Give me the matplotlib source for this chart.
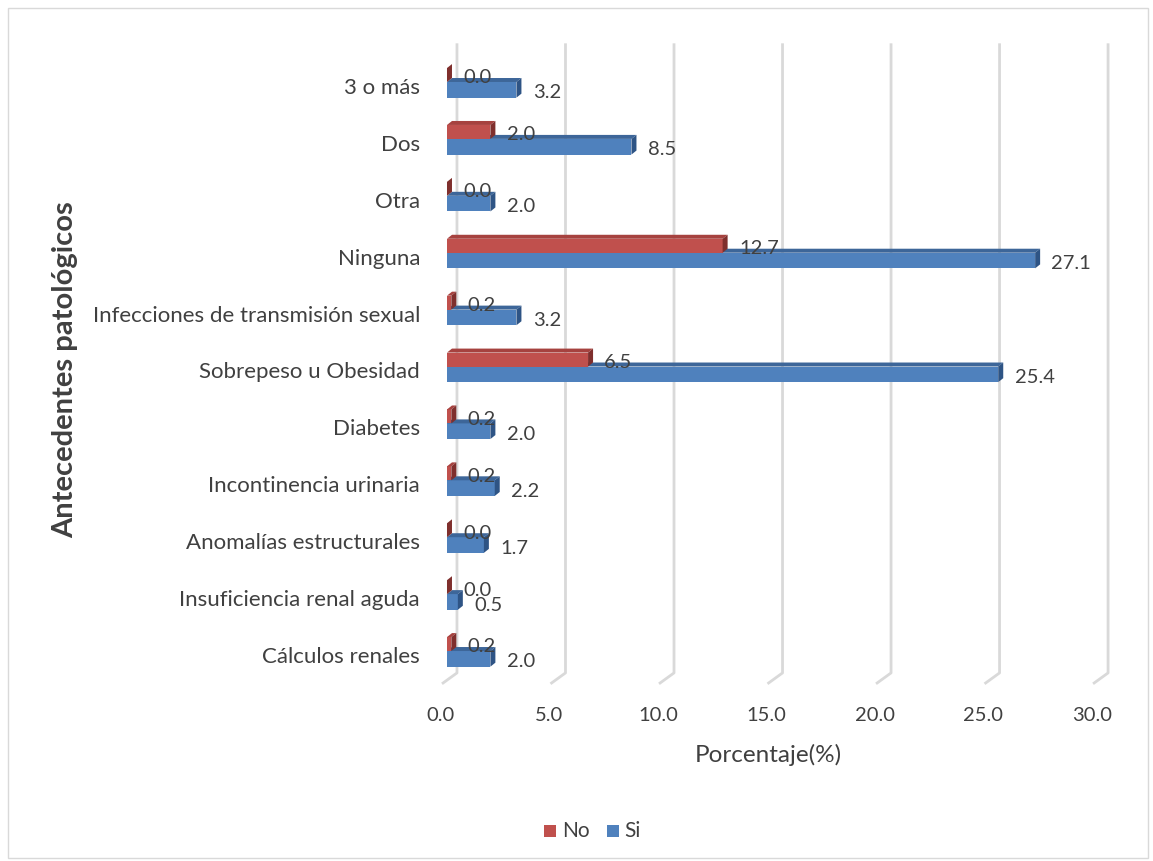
import matplotlib
matplotlib.use("Agg")
import matplotlib.pyplot as plt
from matplotlib.patches import Polygon, Rectangle

# data (bottom to top)
categories = ["Cálculos renales", "Insuficiencia renal aguda", "Anomalías estructurales",
              "Incontinencia urinaria", "Diabetes", "Sobrepeso u Obesidad",
              "Infecciones de transmisión sexual", "Ninguna", "Otra", "Dos", "3 o más"]
no_vals = [0.2, 0.0, 0.0, 0.2, 0.2, 6.5, 0.2, 12.7, 0.0, 2.0, 0.0]
si_vals = [2.0, 0.5, 1.7, 2.2, 2.0, 25.4, 3.2, 27.1, 2.0, 8.5, 3.2]
xticks = [0, 5, 10, 15, 20, 25, 30]

FONT = "Lato"
TXT = "#404040"
W, H = 1153, 861

fig = plt.figure(figsize=(W / 100, H / 100), dpi=100)
fig.patches.append(Rectangle((8 / W, 3 / H), 1140 / W, 850 / H, transform=fig.transFigure,
                             fill=False, edgecolor="#D9D9D9", lw=1))
ax = fig.add_axes([430 / W, (H - 700) / H, 690 / W, 660 / H])
ax.set_xlim(-0.783, 31.01)
ax.set_ylim(-0.756, 10.843)
ax.axis("off")

dx, dy = 0.23, 0.07


def bar3d(v, y0, y1, front, top, side):
    ax.add_patch(Rectangle((0, y0), v, y1 - y0, facecolor=front, edgecolor="none", zorder=3))
    ax.add_patch(Polygon([(0, y1), (v, y1), (v + dx, y1 + dy), (dx, y1 + dy)],
                         facecolor=top, edgecolor="none", zorder=3))
    ax.add_patch(Polygon([(v, y0), (v, y1), (v + dx, y1 + dy), (v + dx, y0 + dy)],
                         facecolor=side, edgecolor="none", zorder=3))


# back-wall gridlines with floor corner
for t in xticks:
    ax.plot([t + 0.46, t + 0.46, t - 0.18], [10.76, -0.28, -0.457],
            color="#D9D9D9", lw=2, zorder=1, clip_on=False)
    ax.text(t - 0.28, -1.02, f"{t:.1f}", ha="center", va="center",
            fontsize=14.5, color=TXT, family=FONT, clip_on=False)

for i, (n, s) in enumerate(zip(no_vals, si_vals)):
    bar3d(s, i - 0.17, i + 0.105, "#4F81BD", "#3D6699", "#2E5485")
    bar3d(n, i + 0.105, i + 0.35, "#C0504D", "#A6423F", "#7F2F2D")
    ax.text(n + 0.75, i + 0.176, f"{n:.1f}", ha="left", va="center",
            fontsize=14.5, color=TXT, family=FONT, zorder=5)
    ax.text(s + 0.75, i - 0.088, f"{s:.1f}", ha="left", va="center",
            fontsize=14.5, color=TXT, family=FONT, zorder=5)
    ax.text(-1.24, i, categories[i], ha="right", va="center",
            fontsize=16, color=TXT, family=FONT, clip_on=False)

fig.text(768 / W, 1 - 755 / H, "Porcentaje(%)", ha="center", va="center",
         fontsize=17.5, color=TXT, family=FONT)
fig.text(65 / W, 1 - 370 / H, "Antecedentes patológicos", ha="center", va="center",
         rotation=90, fontsize=21, fontweight="bold", color=TXT, family=FONT)

# legend
fig.patches.append(Rectangle((544 / W, 1 - 837 / H), 12 / W, 12 / H, transform=fig.transFigure,
                             facecolor="#C0504D", edgecolor="none"))
fig.text(562 / W, 1 - 831 / H, "No", ha="left", va="center", fontsize=15, color=TXT, family=FONT)
fig.patches.append(Rectangle((607 / W, 1 - 837 / H), 12 / W, 12 / H, transform=fig.transFigure,
                             facecolor="#4F81BD", edgecolor="none"))
fig.text(624 / W, 1 - 831 / H, "Si", ha="left", va="center", fontsize=15, color=TXT, family=FONT)

fig.savefig("out.png", dpi=100)
